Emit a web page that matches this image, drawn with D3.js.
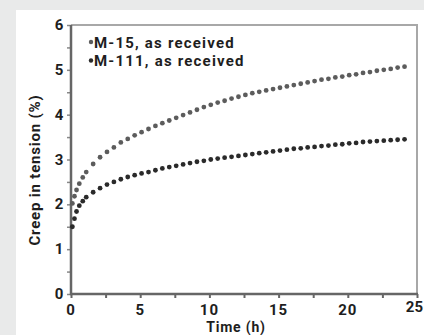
<!DOCTYPE html>
<html>
<head>
<meta charset="utf-8">
<script src="https://d3js.org/d3.v7.min.js"></script>
<style>
  body { margin: 0; background: #e9eaea; }
  svg { display: block; }
  text { font-family: Roboto, "Noto Sans", sans-serif; fill: #1e1e1e; font-weight: bold; }
</style>
</head>
<body>
<svg width="424" height="335"></svg>
<script>
// data
var times = [0.1, 0.25, 0.4, 0.6, 0.85, 1.1, 1.6, 2.1, 2.6, 3.1, 3.6, 4.1, 4.6, 5.1, 5.6, 6.1,
  6.6, 7.1, 7.6, 8.1, 8.6, 9.1, 9.6, 10.1, 10.6, 11.1, 11.6, 12.1, 12.6, 13.1, 13.6, 14.1,
  14.6, 15.1, 15.6, 16.1, 16.6, 17.1, 17.6, 18.1, 18.6, 19.1, 19.6, 20.1, 20.6, 21.1, 21.6,
  22.1, 22.6, 23.1, 23.6, 24.1];
var m15 = [2.02, 2.18, 2.32, 2.46, 2.6, 2.72, 2.9, 3.05, 3.17, 3.27, 3.38, 3.46, 3.54, 3.61, 3.68, 3.75,
  3.81, 3.87, 3.93, 3.99, 4.05, 4.11, 4.17, 4.22, 4.27, 4.31, 4.36, 4.40, 4.44, 4.48, 4.51, 4.54,
  4.57, 4.60, 4.63, 4.66, 4.69, 4.72, 4.75, 4.78, 4.80, 4.83, 4.85, 4.88, 4.90, 4.93, 4.95,
  4.98, 5.00, 5.02, 5.05, 5.07];
var m111 = [1.5, 1.68, 1.84, 1.97, 2.07, 2.16, 2.27, 2.36, 2.44, 2.5, 2.56, 2.61, 2.65, 2.69, 2.72, 2.76,
  2.80, 2.83, 2.86, 2.89, 2.92, 2.95, 2.97, 3.0, 3.02, 3.04, 3.06, 3.08, 3.10, 3.12, 3.14, 3.16,
  3.18, 3.20, 3.22, 3.24, 3.25, 3.27, 3.28, 3.30, 3.31, 3.33, 3.34, 3.36, 3.37, 3.39, 3.40,
  3.41, 3.42, 3.43, 3.44, 3.45];
var seriesNames = ["M-15, as received", "M-111, as received"];
var seriesColors = ["#5c5c5c", "#2a2a2a"];
var xTicks = [0, 5, 10, 15, 20, 25];
var yTicks = [0, 1, 2, 3, 4, 5, 6];

var svg = d3.select("svg");

// white panel
svg.append("rect").attr("x", 16).attr("y", 10).attr("width", 408).attr("height", 325).attr("fill", "#fff");

var x = d3.scaleLinear().domain([0, 25]).range([71, 417]),
    y = d3.scaleLinear().domain([0, 6]).range([294, 25]);

// frame top/right
svg.append("path")
  .attr("d", "M" + x(0) + "," + y(6) + "H" + x(25) + "V" + y(0))
  .attr("fill", "none").attr("stroke", "#a8a8a8").attr("stroke-width", 2);

// minor ticks
svg.append("g").attr("transform", "translate(" + x(0) + ",0)")
  .call(d3.axisLeft(y).tickValues(d3.range(0, 6.01, 0.5)).tickSize(4).tickFormat(""))
  .call(function(g) { g.select(".domain").remove(); g.selectAll("line").attr("stroke", "#888").attr("stroke-width", 1.5); });
svg.append("g").attr("transform", "translate(0," + y(0) + ")")
  .call(d3.axisBottom(x).tickValues(d3.range(0, 25.01, 2.5)).tickSize(4).tickFormat(""))
  .call(function(g) { g.select(".domain").remove(); g.selectAll("line").attr("stroke", "#666").attr("stroke-width", 2); });

// axis lines
svg.append("line").attr("x1", x(0)).attr("x2", x(0)).attr("y1", y(6)).attr("y2", y(0) + 1)
  .attr("stroke", "#666").attr("stroke-width", 2.5);
svg.append("line").attr("x1", x(0) - 1).attr("x2", x(25) + 1).attr("y1", y(0)).attr("y2", y(0))
  .attr("stroke", "#666").attr("stroke-width", 2.5);

// tick labels
svg.selectAll(".ylab").data(yTicks).enter().append("text")
  .attr("x", 59).attr("y", function(d) { return y(d) + 5; })
  .attr("text-anchor", "middle").attr("font-size", 15)
  .text(function(d) { return d; });
svg.selectAll(".xlab").data(xTicks).enter().append("text")
  .attr("x", function(d) { return d == 25 ? 423 : x(d); })
  .attr("y", function(d) { return d == 25 ? 312 : 315; })
  .attr("text-anchor", function(d) { return d == 25 ? "end" : "middle"; })
  .attr("font-size", 15).attr("letter-spacing", function(d) { return d == 25 ? 0 : 1; })
  .text(function(d) { return d; });

svg.append("text").attr("x", 236).attr("y", 332).attr("text-anchor", "middle")
  .attr("font-size", 14).attr("letter-spacing", 0.8).text("Time (h)");
svg.append("text").attr("transform", "translate(40,170) rotate(-90)").attr("text-anchor", "middle")
  .attr("font-size", 15).attr("letter-spacing", 0.8).text("Creep in tension (%)");

// series
[m15, m111].forEach(function(vals, i) {
  svg.append("g").selectAll("circle")
    .data(times.map(function(t, j) { return [t, vals[j]]; }))
    .enter().append("circle")
    .attr("cx", function(d) { return x(d[0]); })
    .attr("cy", function(d) { return y(d[1]); })
    .attr("r", 2.4)
    .attr("fill", seriesColors[i]);
});

// legend
var leg = svg.append("g").selectAll("g").data(seriesNames).enter().append("g")
  .attr("transform", function(d, i) { return "translate(91," + (42 + i * 18.5) + ")"; });
leg.append("circle").attr("r", 2.2).attr("fill", function(d, i) { return seriesColors[i]; });
leg.append("text").attr("x", 3).attr("y", 5.5).attr("font-size", 15).attr("letter-spacing", 1.2)
  .text(function(d) { return d; });
</script>
</body>
</html>
